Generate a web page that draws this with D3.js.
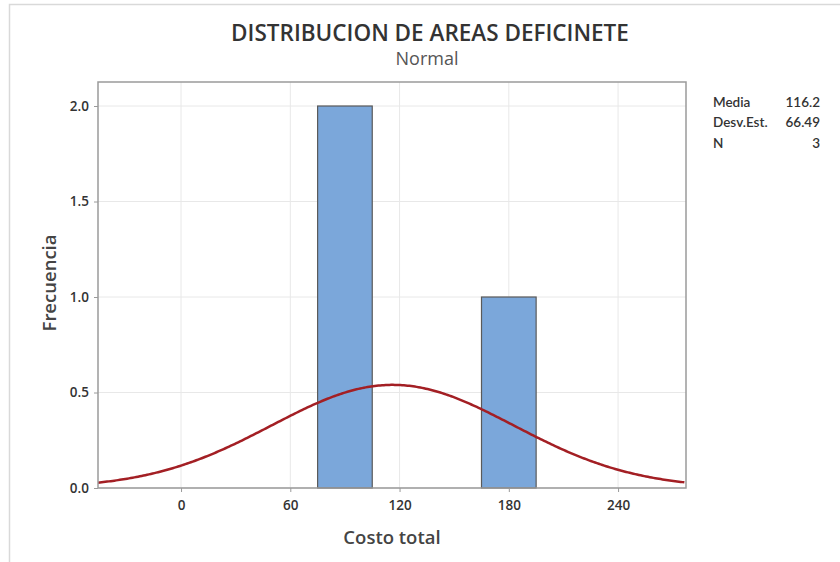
<!DOCTYPE html>
<html>
<head>
<meta charset="utf-8">
<script src="https://cdn.jsdelivr.net/npm/d3@7"></script>
<style>
body { margin: 0; background: #fff; }
svg text { font-family: "Open Sans", "Noto Sans", sans-serif; }
svg text.stat { font-family: Lato, "Noto Sans", sans-serif; }
</style>
</head>
<body>
<svg width="840" height="562"></svg>
<script>
// histogram bins (Costo total) and counts
var binStart = [75, 165];
var binEnd = [105, 195];
var counts = [2, 1];
// fitted normal statistics
var statLabels = ['Media', 'Desv.Est.', 'N'];
var statValues = ['116.2', '66.49', '3'];
var media = 116.2, desv = 66.49, n = 3, binWidth = 30;
var xTicks = [0, 60, 120, 180, 240];
var yTicks = [0, 0.5, 1.0, 1.5, 2.0];

var svg = d3.select('svg');

// outer frame
svg.append('path')
    .attr('d', 'M9.5,562 V4.5 H840')
    .attr('fill', 'none')
    .attr('stroke', '#d9d9d9')
    .attr('stroke-width', 1.5);

var plotLeft = 98, plotTop = 82, w = 588, h = 406;
var g = svg.append('g').attr('transform', 'translate(' + plotLeft + ',' + plotTop + ')');

var scaleX = d3.scaleLinear().domain([-45.6, 277.3]).range([0, w]);
var scaleY = d3.scaleLinear().domain([0, 2.1257]).range([h, 0]);

// grid
g.selectAll('.gx').data(xTicks).enter().append('line')
    .attr('x1', function (d) { return scaleX(d); })
    .attr('x2', function (d) { return scaleX(d); })
    .attr('y1', 0).attr('y2', h)
    .attr('stroke', '#e8e8e8').attr('stroke-width', 1);
g.selectAll('.gy').data(yTicks).enter().append('line')
    .attr('y1', function (d) { return scaleY(d); })
    .attr('y2', function (d) { return scaleY(d); })
    .attr('x1', 0).attr('x2', w)
    .attr('stroke', '#e8e8e8').attr('stroke-width', 1);

// bars
g.selectAll('rect.bar').data(counts).enter().append('rect')
    .attr('x', function (d, i) { return scaleX(binStart[i]); })
    .attr('width', function (d, i) { return scaleX(binEnd[i]) - scaleX(binStart[i]); })
    .attr('y', function (d) { return scaleY(d); })
    .attr('height', function (d) { return h - scaleY(d); })
    .attr('fill', '#7ba7da')
    .attr('stroke', '#5a5a5a')
    .attr('stroke-width', 1.2);

// normal fit curve scaled to counts
var xs = d3.range(-45.6, 277.4, 1);
var fit = xs.map(function (x) {
    var z = (x - media) / desv;
    return [x, n * binWidth * Math.exp(-0.5 * z * z) / (desv * Math.sqrt(2 * Math.PI))];
});
g.append('path')
    .datum(fit)
    .attr('d', d3.line()
        .x(function (d) { return scaleX(d[0]); })
        .y(function (d) { return scaleY(d[1]); }))
    .attr('fill', 'none')
    .attr('stroke', '#a31f24')
    .attr('stroke-width', 2.5);

// frame
g.append('rect')
    .attr('width', w).attr('height', h)
    .attr('fill', 'none')
    .attr('stroke', '#9a9a9a')
    .attr('stroke-width', 1.5);

// axes
var ax = g.append('g')
    .attr('transform', 'translate(0,' + h + ')')
    .call(d3.axisBottom(scaleX).tickValues(xTicks).tickSize(4).tickPadding(8));
var ay = g.append('g')
    .call(d3.axisLeft(scaleY).tickValues(yTicks).tickSize(4).tickPadding(5).tickFormat(d3.format('.1f')));
[ax, ay].forEach(function (a) {
    a.select('.domain').remove();
    a.selectAll('line').attr('stroke', '#9a9a9a');
    a.selectAll('text')
        .attr('font-size', 13.5)
        .attr('font-weight', 600)
        .attr('fill', '#333')
        .style('font-family', '"Open Sans", sans-serif');
});

// titles
svg.append('text')
    .attr('x', 430).attr('y', 41)
    .attr('text-anchor', 'middle')
    .attr('font-size', 22.5)
    .attr('font-weight', 600)
    .attr('fill', '#333')
    .text('DISTRIBUCION DE AREAS DEFICINETE');
svg.append('text')
    .attr('x', 427).attr('y', 65)
    .attr('text-anchor', 'middle')
    .attr('font-size', 18)
    .attr('fill', '#555')
    .text('Normal');

svg.append('text')
    .attr('x', 392).attr('y', 544)
    .attr('text-anchor', 'middle')
    .attr('font-size', 18.5)
    .attr('font-weight', 600)
    .attr('fill', '#444')
    .text('Costo total');
svg.append('text')
    .attr('transform', 'rotate(-90)')
    .attr('x', -283).attr('y', 56)
    .attr('text-anchor', 'middle')
    .attr('font-size', 18.5)
    .attr('font-weight', 600)
    .attr('fill', '#444')
    .text('Frecuencia');

// stats table
var st = svg.append('g');
st.selectAll('text.lab').data(statLabels).enter().append('text')
    .attr('class', 'stat lab')
    .attr('x', 713)
    .attr('y', function (d, i) { return 107 + i * 20.3; })
    .attr('font-size', 13.5)
    .attr('font-weight', 600)
    .attr('fill', '#333')
    .text(function (d) { return d; });
st.selectAll('text.val').data(statValues).enter().append('text')
    .attr('class', 'stat val')
    .attr('x', 820)
    .attr('y', function (d, i) { return 107 + i * 20.3; })
    .attr('text-anchor', 'end')
    .attr('font-size', 13.5)
    .attr('font-weight', 600)
    .attr('fill', '#333')
    .text(function (d) { return d; });
</script>
</body>
</html>
